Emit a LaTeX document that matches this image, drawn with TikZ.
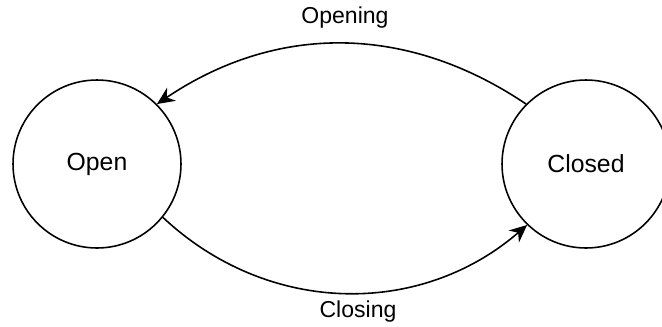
\documentclass[tikz,border=0pt]{standalone}
\usepackage{fontspec}
\setmainfont{Liberation Sans}
\usetikzlibrary{positioning,arrows.meta}
\definecolor{Ink}{HTML}{000000}

\tikzset{
  state/.style={circle, draw=Ink, line width=0.9pt, minimum size=3.36cm,
    inner sep=0pt, font=\fontsize{14.1}{17}\selectfont},
  trans/.style={draw=Ink, line width=0.9pt, -{Stealth[length=10pt, width=9pt]}},
  translabel/.style={font=\fontsize{13.1}{16}\selectfont}
}

\begin{document}
\begin{tikzpicture}[x=0.02cm, y=0.02cm]
  \useasboundingbox (0,0) rectangle (662,326);
  % the two states
  \node[state] (open) at (97,162) {Open};
  \node[state] (closed) at (586,162) {Closed};
  % transitions
  \draw[trans] (closed.135) to[bend right=34] (open.45);
  \draw[trans] (open.-39) to[bend right=42] (closed.-134);
  % labels
  \node[translabel] (opening) at (345,308) {Opening};
  \node[translabel] (closing) at (358,14) {Closing};
\end{tikzpicture}
\end{document}
